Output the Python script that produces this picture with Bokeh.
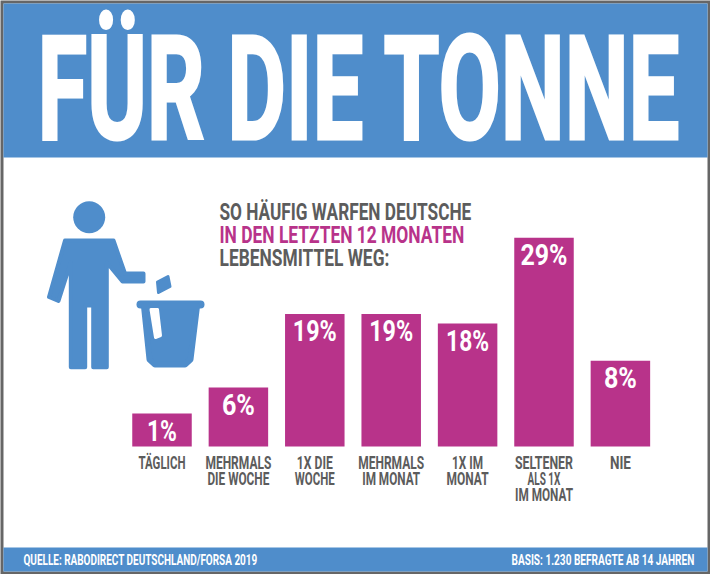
import json
from bokeh.plotting import figure
from bokeh.document import Document
from bokeh.models import Range1d, ColumnDataSource, CustomJS
from bokeh.core.properties import value
from bokeh.embed import file_html
from bokeh.resources import INLINE

categories = ["TÄGLICH", "MEHRMALS\nDIE WOCHE", "1X DIE\nWOCHE", "MEHRMALS\nIM MONAT",
              "1X IM\nMONAT", "SELTENER\nALS 1X\nIM MONAT", "NIE"]
percent_values = [1, 6, 19, 19, 18, 29, 8]
# bar heights as drawn in the source picture (not proportional to the printed values)
bar_heights = [4.6, 8.2, 18.4, 18.4, 17.1, 29.0, 11.9]

title_text = "FÜR DIE TONNE"
head_lines = ["SO HÄUFIG WARFEN DEUTSCHE", "IN DEN LETZTEN 12 MONATEN", "LEBENSMITTEL WEG:"]
source_text = "QUELLE: RABODIRECT DEUTSCHLAND/FORSA 2019"
basis_text = "BASIS: 1.230 BEFRAGTE AB 14 JAHREN"

BLUE, MAGENTA, GREY, EDGE = "#4f8dcb", "#b8338a", "#5c5c5c", "#666666"
FONT = value("Roboto")
BASELINE_SHIFT = 0.34  # em: Bokeh draws the alphabetic baseline this far below the anchor

# The source uses a condensed display face, none is installed: fit each string to its width
# [width in px, anchor fraction, extra stroke in px]
fit = {
    title_text: [642, 0, 3],
    head_lines[0]: [252, 0, 0], head_lines[1]: [245, 0, 0], head_lines[2]: [170, 0, 0],
    source_text: [234, 0, 0], basis_text: [183, 1, 0],
    "1%": [30, .5, 0], "6%": [33, .5, 0], "8%": [33, .5, 0], "19%": [44, .5, 0], "18%": [43, .5, 0], "29%": [47, .5, 0],
    "TÄGLICH": [47, .5, 0], "MEHRMALS": [66, .5, 0], "DIE WOCHE": [62, .5, 0], "1X DIE": [36, .5, 0], "WOCHE": [40, .5, 0],
    "IM MONAT": [58, .5, 0], "1X IM": [31, .5, 0], "MONAT": [42, .5, 0], "SELTENER": [58, .5, 0], "ALS 1X": [33, .5, 0],
    "NIE": [21, .5, 0],
}
JS = "const fit = " + json.dumps(fit) + """;
function walk(root, out) {
  root.querySelectorAll('*').forEach(el => {
    if (el.shadowRoot) walk(el.shadowRoot, out);
    if (el.tagName.toLowerCase() === 'text') out.push(el);
  });
}
function apply() {
  const out = [];
  walk(document, out);
  for (const t of out) {
    const e = fit[t.textContent];
    if (!e || t.hasAttribute('data-fit')) continue;
    t.setAttribute('data-fit', '1');
    const w0 = t.getComputedTextLength();
    const x = parseFloat(t.getAttribute('x') || '0');
    const cx = x + e[1] * w0;
    const s = e[0] / w0;
    const old = t.getAttribute('transform') || '';
    t.setAttribute('transform', `${old} translate(${cx} 0) scale(${s} 1) translate(${-cx} 0)`);
    if (e[2]) { t.setAttribute('stroke', t.getAttribute('fill')); t.setAttribute('stroke-width', e[2]); t.style.strokeWidth = e[2] + 'px'; t.style.stroke = 'white'; }
  }
}
for (const d of [0, 50, 200, 500, 1000, 2000]) setTimeout(apply, d);
"""

p = figure(width=710, height=574, output_backend="svg", toolbar_location=None,
           x_range=Range1d(0, 710), y_range=Range1d(574, 0),
           min_border=0, outline_line_color=None)
p.axis.visible = False
p.grid.visible = False
p.background_fill_color = EDGE

# bar scales: index -> x, value -> y
STEP, X0, BASE, PX = 76.4, 161.5, 446.0, 7.2
p.extra_x_ranges["cat"] = Range1d((0 - X0) / STEP, (710 - X0) / STEP)
p.extra_y_ranges["pct"] = Range1d((BASE - 574) / PX, (BASE - 0) / PX)

# page, header / footer bands
p.quad(left=[3], right=[707], top=[3], bottom=[571], color="white", line_color=None)
p.quad(left=[3, 3], right=[707, 707], top=[3, 547], bottom=[157, 571], color=BLUE, line_color=None)

# title
p.text(x=[37], y=[138], y_offset=-BASELINE_SHIFT * 144, text=[title_text], text_color="white", text_font=FONT,
       text_font_style="bold", text_font_size="144px", text_align="left", text_baseline="alphabetic")

# icon: person
p.scatter(x=[88.7], y=[216.7], size=32, marker="circle", color=BLUE, line_color=None)
px = [65, 113, 124.5, 143, 143, 122, 106.3, 106.3, 92.7, 92.7, 84.7, 84.7, 70.3, 70.3, 58, 48.5, 64.5]
py = [240, 240, 273, 273, 281, 281, 262, 366.7, 366.7, 305, 305, 366.7, 366.7, 262, 300.5, 296.5, 240]
p.patch(px, py, fill_color=BLUE, line_color=BLUE, line_width=4, line_join="round")
# icon: bin
p.line([140, 200], [304, 304], line_color=BLUE, line_width=8, line_cap="round")
p.patch([143.5, 196.5, 190, 184.5, 154.5, 149], [306, 306, 359, 364, 364, 359],
        fill_color=BLUE, line_color=BLUE, line_width=6, line_join="round")
p.patch([150.5, 157, 160, 155], [309, 309, 335, 337], fill_color="white", line_color="white",
        line_width=3, line_join="round")
p.patch([157, 167.5, 169.5, 158], [281.5, 276, 286, 292], fill_color=BLUE, line_color=BLUE,
        line_width=3, line_join="round")

# heading
for y, t, c in zip([220, 242.5, 265.5], head_lines, [GREY, MAGENTA, GREY]):
    p.text(x=[219], y=[y], y_offset=-BASELINE_SHIFT * 24, text=[t], text_color=c, text_font=FONT,
           text_font_style="bold", text_font_size="24px", text_align="left", text_baseline="alphabetic")

# bars
src = ColumnDataSource(dict(
    i=list(range(len(categories))), h=bar_heights, cat=categories,
    lab=[f"{v}%" for v in percent_values], ly=[-0.7] * len(categories)))
p.vbar(x="i", top="h", bottom=0, width=59.5 / STEP, source=src, color=MAGENTA, line_color=None,
       x_range_name="cat", y_range_name="pct")
p.text(x="i", y="h", text="lab", source=src, y_offset=27 - BASELINE_SHIFT * 29, text_color="white", text_font=FONT,
       text_font_style="bold", text_font_size="29px", text_align="center", text_baseline="alphabetic",
       x_range_name="cat", y_range_name="pct")
p.text(x="i", y="ly", text="cat", source=src, text_color=GREY, text_font=FONT,
       text_font_style="bold", text_font_size="18px", text_align="center", text_baseline="top",
       text_line_height=0.78, x_range_name="cat", y_range_name="pct")

# footer texts
p.text(x=[23], y=[564], y_offset=-BASELINE_SHIFT * 14, text=[source_text], text_color="white", text_font=FONT,
       text_font_style="bold", text_font_size="14px", text_align="left", text_baseline="alphabetic")
p.text(x=[694], y=[564], y_offset=-BASELINE_SHIFT * 14, text=[basis_text], text_color="white", text_font=FONT,
       text_font_style="bold", text_font_size="14px", text_align="right", text_baseline="alphabetic")

doc = Document()
doc.add_root(p)
doc.js_on_event("document_ready", CustomJS(code=JS))
open("out.html", "w").write(file_html(p, INLINE))
